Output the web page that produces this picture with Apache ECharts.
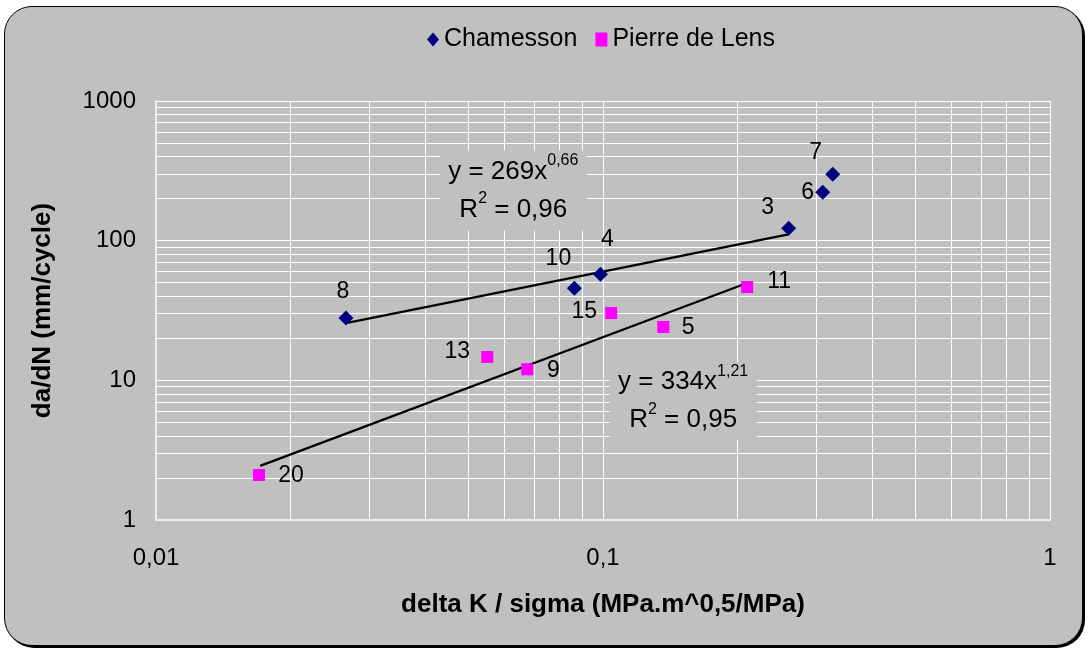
<!DOCTYPE html>
<html><head><meta charset="utf-8">
<script src="https://cdn.jsdelivr.net/npm/echarts@6/dist/echarts.min.js"></script>
<style>
html,body{margin:0;padding:0;background:#fff;}
#frame{position:absolute;left:4px;top:6px;width:1077px;height:638px;background:#c0c0c0;border:1.5px solid #000;border-radius:28px;box-shadow:2px 2px 0 #000;}
#chart{position:absolute;left:0;top:0;width:1089px;height:650px;}
</style></head><body>
<div id="frame"></div><div id="chart"></div>
<script>
// ---- data ----
const seriesNames = ['Chamesson', 'Pierre de Lens'];
const chamX = [0.0266, 0.0863, 0.0987, 0.2603, 0.3102, 0.3266];
const chamY = [27.9, 45.7, 57.6, 122.9, 222, 299];
const chamLabels = ['8', '10', '4', '3', '6', '7'];
const pierreX = [0.0170, 0.0551, 0.0677, 0.1043, 0.1364, 0.2102];
const pierreY = [2.10, 14.7, 12.0, 30.3, 24.1, 46.5];
const pierreLabels = ['20', '13', '9', '15', '5', '11'];
const chamTrendX = [0.0266, 0.26];
const chamTrendY = [25.7, 111];
const pierreTrendX = [0.0171, 0.2102];
const pierreTrendY = [2.44, 49.7];
const chamEq = { coef: '269', exp: '0,66', r2: '0,96', x: 0.0630, y: 229 };
const pierreEq = { coef: '334', exp: '1,21', r2: '0,95', x: 0.1511, y: 7.1 };
const xTickLabels = ['0,01', '0,1', '1'];
const yTickLabels = ['1', '10', '100', '1000'];
const xTitle = 'delta K / sigma (MPa.m^0,5/MPa)';
const yTitle = 'da/dN (mm/cycle)';

// ---- styling (label placement offsets, px) ----
const chamOffsets = [[-3,-26],[-16,-30],[7,-34],[-21,-21],[-15,0],[-17,-22]];
const pierreOffsets = [[32,1],[-30,-5],[26,1],[-27,-1],[25,1],[32,-5]];
const FONT = '"Liberation Sans", Arial, sans-serif';

// minor gridline values (2..9 per decade)
const yMinor = [], xMinor = [];
[1, 10, 100].forEach(d => { for (let k = 2; k <= 9; k++) yMinor.push(k * d); });
[0.01, 0.1].forEach(d => { for (let k = 2; k <= 9; k++) xMinor.push(+(k * d).toFixed(3)); });

const ptLabel = { fontSize: 23, color: '#000', fontFamily: FONT, textBorderWidth: 0, textShadowBlur: 0, opacity: 1 };
function pts(xs, ys, labels, offs) {
  return xs.map((x, i) => {
    const o = { value: [x, ys[i]] };
    if (labels) o.label = Object.assign({ show: true, formatter: labels[i], position: 'inside', offset: offs[i] }, ptLabel);
    return o;
  });
}
function eqMark(eq, w, h) {
  return {
    silent: true, z: 6,
    symbol: 'rect', symbolSize: [w, h],
    itemStyle: { color: '#c0c0c0', opacity: 1 },
    label: {
      show: true, position: 'inside', textBorderWidth: 0,
      formatter: `{a|y = ${eq.coef}x}{s|${eq.exp}}\n{a|R}{s|2}{a| = ${eq.r2}}`,
      rich: {
        a: { fontSize: 26, color: '#000', fontFamily: FONT, lineHeight: 38, textBorderWidth: 0 },
        s: { fontSize: 16, color: '#000', fontFamily: FONT, lineHeight: 22, verticalAlign: 'top', textBorderWidth: 0 }
      }
    },
    data: [{ coord: [eq.x, eq.y] }]
  };
}

const chart = echarts.init(document.getElementById('chart'));
chart.setOption({
  backgroundColor: 'transparent',
  animation: false,
  textStyle: { fontFamily: FONT },
  legend: {
    data: seriesNames, top: 22, left: 422, itemGap: 18, itemWidth: 12, itemHeight: 14,
    textStyle: { fontSize: 25, color: '#000', fontFamily: FONT }
  },
  grid: { left: 156, right: 39, top: 101, bottom: 130 },
  xAxis: {
    type: 'log', logBase: 10, min: 0.01, max: 1,
    name: xTitle, nameLocation: 'middle', nameGap: 72,
    nameTextStyle: { fontSize: 26, fontWeight: 'bold', color: '#000', fontFamily: FONT },
    axisLine: { lineStyle: { color: '#eeeeee', width: 2 } },
    axisTick: { show: false },
    axisLabel: { fontSize: 24, color: '#000', margin: 26, fontFamily: FONT,
      formatter: v => xTickLabels[Math.round(Math.log10(v)) + 2] },
    splitLine: { show: true, lineStyle: { color: '#ffffff', width: 1 } }
  },
  yAxis: {
    type: 'log', logBase: 10, min: 1, max: 1000,
    name: yTitle, nameLocation: 'middle', nameGap: 100, nameRotate: 90,
    nameTextStyle: { fontSize: 26, fontWeight: 'bold', color: '#000', fontFamily: FONT },
    axisLine: { lineStyle: { color: '#eeeeee', width: 2 } },
    axisTick: { show: false },
    axisLabel: { fontSize: 24, color: '#000', margin: 20, fontFamily: FONT,
      formatter: v => yTickLabels[Math.round(Math.log10(v))] },
    splitLine: { show: true, lineStyle: { color: '#ffffff', width: 1 } }
  },
  series: [
    {
      name: 'grid', type: 'line', data: [], z: 1, silent: true,
      markLine: {
        silent: true, z: 1, symbol: 'none', label: { show: false },
        lineStyle: { color: '#ffffff', width: 1, type: 'solid', opacity: 1 },
        emphasis: { disabled: true },
        data: yMinor.map(v => ({ yAxis: v })).concat(xMinor.map(v => ({ xAxis: v })))
      }
    },
    {
      name: 'trendC', type: 'line', z: 2, symbol: 'none', silent: true,
      lineStyle: { color: '#000', width: 2.2 },
      data: pts(chamTrendX, chamTrendY),
      markPoint: eqMark(chamEq, 147, 80)
    },
    {
      name: 'trendP', type: 'line', z: 2, symbol: 'none', silent: true,
      lineStyle: { color: '#000', width: 2.2 },
      data: pts(pierreTrendX, pierreTrendY),
      markPoint: eqMark(pierreEq, 147, 78)
    },
    {
      name: seriesNames[0], type: 'scatter', z: 3, symbol: 'diamond', symbolSize: [15, 15],
      itemStyle: { color: '#000080', opacity: 1 },
      label: ptLabel,
      data: pts(chamX, chamY, chamLabels, chamOffsets)
    },
    {
      name: seriesNames[1], type: 'scatter', z: 3, symbol: 'rect', symbolSize: 12,
      itemStyle: { color: '#ff00ff', opacity: 1 },
      label: ptLabel,
      data: pts(pierreX, pierreY, pierreLabels, pierreOffsets)
    }
  ]
});
</script>
</body></html>
